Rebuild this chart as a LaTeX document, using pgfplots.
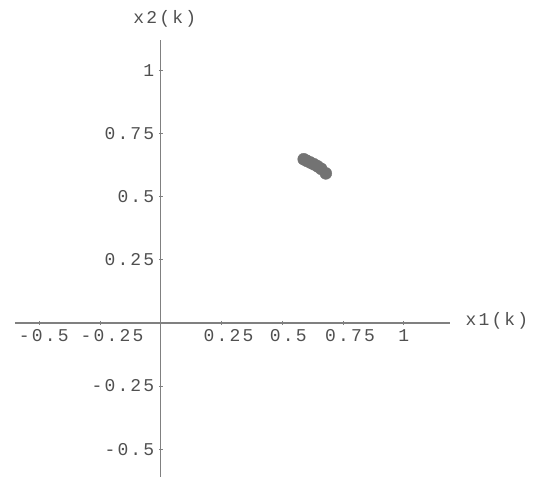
\documentclass[border=0pt]{standalone}
\usepackage{pgfplots}
\pgfplotsset{compat=1.18}
\usepackage{fontspec}
\setmainfont{Liberation Mono}[LetterSpace=12]
\definecolor{axgray}{HTML}{808080}
\definecolor{txtgray}{HTML}{505050}
\definecolor{ptgray}{HTML}{737373}
\begin{document}
\begin{tikzpicture}
\useasboundingbox (0,0) rectangle (539pt,481pt);
\begin{axis}[
  at={(15pt,4pt)}, anchor=south west,
  scale only axis, width=435pt, height=437pt,
  axis lines=middle,
  xmin=-0.6, xmax=1.19, ymin=-0.61, ymax=1.12,
  xtick={-0.5,-0.25,0.25,0.5,0.75,1},
  ytick={-0.5,-0.25,0.25,0.5,0.75,1},
  xticklabels={\hspace*{9pt}-0.5,\hspace*{24pt}-0.25,\hspace*{14pt}0.25,\hspace*{12pt}0.5,\hspace*{14pt}0.75,1},
  yticklabels={-0.5,-0.25,0.25,0.5,0.75,1},
  /pgf/number format/assume math mode=true,
  axis line style={axgray, line width=1.2pt, -},
  tick style={axgray, line width=0.8pt},
  major tick length=4pt,
  tick label style={font=\fontsize{18}{18}\selectfont, text=txtgray},
  xticklabel style={yshift=-1pt},
  yticklabel style={xshift=-1pt},
  xlabel={x1(k)}, ylabel={x2(k)},
  label style={font=\fontsize{18}{18}\selectfont, text=txtgray},
  xlabel style={at={(current axis.right of origin)}, anchor=west, xshift=12pt, yshift=2pt},
  ylabel style={at={(current axis.above origin)}, anchor=south, xshift=4pt, yshift=9pt},
]
\addplot[only marks, mark=*, mark size=6pt, color=ptgray, mark options={draw=ptgray, fill=ptgray}]
coordinates {(0.588,0.648)(0.60,0.642)(0.615,0.635)(0.63,0.628)(0.645,0.62)(0.66,0.61)(0.679,0.592)};
\end{axis}
\end{tikzpicture}
\end{document}
